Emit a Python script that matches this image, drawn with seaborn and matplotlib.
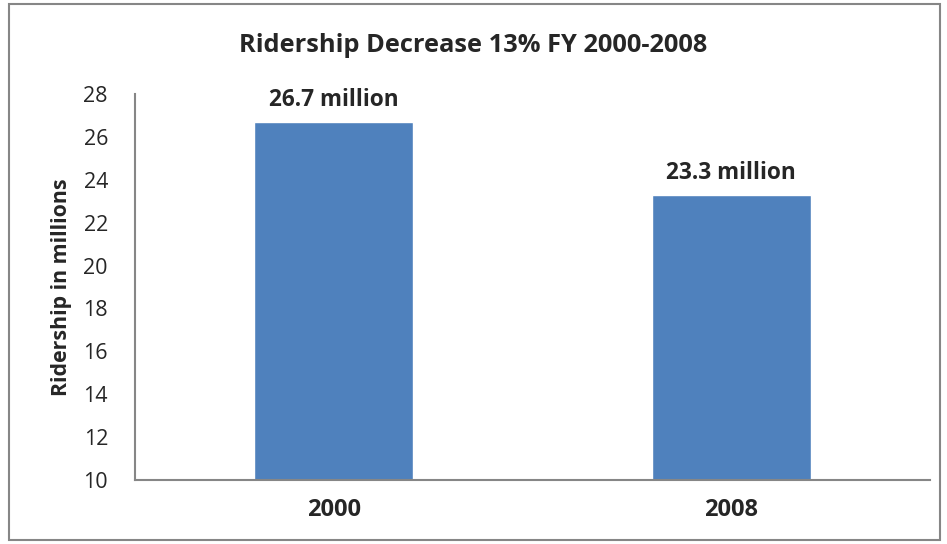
import pandas as pd
import matplotlib
matplotlib.use("Agg")
import matplotlib.pyplot as plt
import seaborn as sns

# Chart data
years = ["2000", "2008"]
ridership = [26.7, 23.3]
bar_labels = ["26.7 million", "23.3 million"]
y_ticks = [10, 12, 14, 16, 18, 20, 22, 24, 26, 28]

df = pd.DataFrame({"Year": years, "Ridership": ridership})

sns.set_style("white")
plt.rcParams["font.family"] = ["Open Sans", "DejaVu Sans"]

fig = plt.figure(figsize=(9.47, 5.44), dpi=100)
ax = fig.add_axes([0.1426, 0.1176, 0.982 - 0.1426, 0.8272 - 0.1176])

sns.barplot(data=df, x="Year", y="Ridership", color="#4F81BD", saturation=1,
            width=0.4, ax=ax)

ax.set_ylim(10, 28)
ax.set_yticks(y_ticks)
ax.set_yticklabels([str(t) for t in y_ticks], fontsize=15.5)
for lbl in ax.get_xticklabels():
    lbl.set_fontsize(17)
    lbl.set_fontweight("bold")
ax.tick_params(axis="x", length=0, pad=13)
ax.tick_params(axis="y", length=0, pad=19.5)
ax.set_xlabel("")
ax.set_ylabel("Ridership in millions", fontsize=15.4, fontweight="bold", labelpad=8)

for s in ["top", "right"]:
    ax.spines[s].set_visible(False)
for s in ["left", "bottom"]:
    ax.spines[s].set_color("#868686")
    ax.spines[s].set_linewidth(1.5)

for patch, text in zip(ax.patches, bar_labels):
    ax.annotate(text, (patch.get_x() + patch.get_width() / 2, patch.get_height()),
                xytext=(0, 7), textcoords="offset points", ha="center", va="bottom",
                fontsize=16.3, fontweight="bold")

fig.text(0.5, 0.917, "Ridership Decrease 13% FY 2000-2008", ha="center", va="center",
         fontsize=18.3, fontweight="bold")

# Outer chart border
border = plt.Rectangle((0.0095, 0.0075), 0.983, 0.985, transform=fig.transFigure,
                       fill=False, edgecolor="#868686", linewidth=1.5)
fig.patches.append(border)

fig.savefig("out.png", dpi=100)
plt.close(fig)
